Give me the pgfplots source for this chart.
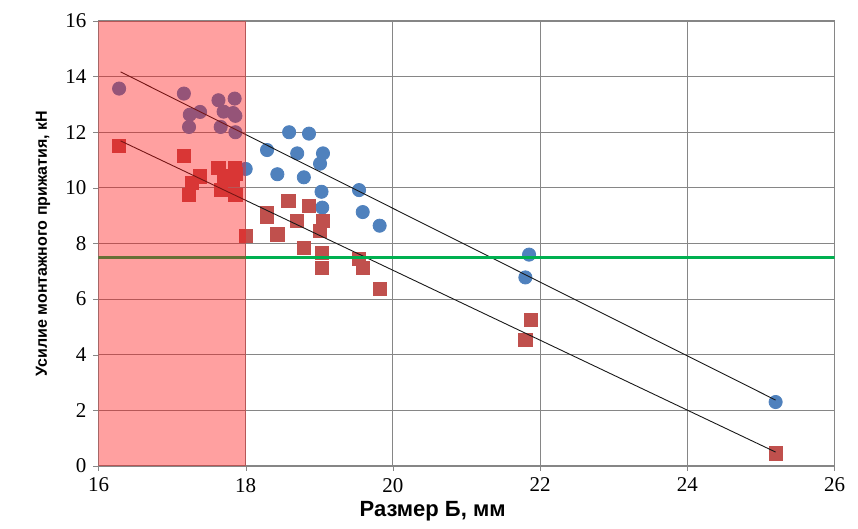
\documentclass[border=0pt]{standalone}
\usepackage{pgfplots}
\pgfplotsset{compat=1.18}
\usepackage{fontspec}
\setmainfont{Liberation Serif}
\newfontfamily\arialfont{Liberation Sans}

\definecolor{ptblue}{RGB}{79,129,189}
\definecolor{ptred}{RGB}{192,80,77}
\definecolor{zone}{RGB}{255,17,17}
\definecolor{limgreen}{RGB}{0,176,80}
\definecolor{gridc}{RGB}{134,134,134}

\begin{document}
\begin{tikzpicture}
\useasboundingbox (0,0) rectangle (429pt,264.5pt);
\begin{axis}[
    at={(49.25pt,31.5pt)}, anchor=south west,
    scale only axis,
    width=368pt, height=222.5pt,
    xmin=16, xmax=26,
    ymin=0, ymax=16,
    xtick={16,18,...,26},
    ytick={0,2,...,16},
    xtick pos=bottom, ytick pos=left,
    grid=major,
    grid style={gridc, line width=0.5pt},
    axis line style={gridc},
    tick align=outside,
    major tick length=2.5pt,
    tick style={gridc},
    ticklabel style={font=\fontsize{10.5}{12}\selectfont},
    /pgf/number format/assume math mode=true,
    xlabel={Размер Б, мм},
    ylabel={Усилие монтажного прижатия, кН},
    xlabel style={font=\arialfont\bfseries\fontsize{11}{13}\selectfont,
        at={(axis description cs:0.454,-0.101)}, anchor=center},
    ylabel style={font=\arialfont\bfseries\fontsize{8}{10}\selectfont,
        at={(axis description cs:-0.0754,0.5)}, anchor=center},
    clip marker paths=true,
]
% blue series
\addplot[only marks, mark=*, mark size=3.3pt, color=ptblue] coordinates {
    (16.28,13.57) (17.16,13.39) (17.23,12.19) (17.24,12.63) (17.38,12.73)
    (17.63,13.15) (17.66,12.19) (17.70,12.74) (17.83,12.69) (17.85,13.21)
    (17.86,12.59) (17.86,12.00)
    (18.00,10.68) (18.29,11.36) (18.43,10.49) (18.59,12.00) (18.70,11.24)
    (18.79,10.38) (18.86,11.95) (19.01,10.87) (19.05,11.24) (19.03,9.86)
    (19.04,9.29) (19.54,9.92) (19.59,9.13) (19.82,8.64)
    (21.85,7.60) (21.80,6.78) (25.20,2.30)
};
% red series
\addplot[only marks, mark=square*, mark size=3.3pt, color=ptred] coordinates {
    (16.28,11.51) (17.16,11.16) (17.23,9.74) (17.27,10.19) (17.38,10.41)
    (17.63,10.71) (17.66,9.93) (17.70,10.41) (17.83,10.29) (17.85,10.71)
    (17.86,10.50) (17.86,9.75)
    (18.00,8.27) (18.29,9.11) (18.29,8.95) (18.43,8.33) (18.58,9.53)
    (18.70,8.80) (18.79,7.85) (18.86,9.36) (19.01,8.46) (19.05,8.82)
    (19.03,7.67) (19.04,7.11) (19.54,7.45) (19.59,7.11) (19.82,6.36)
    (21.87,5.25) (21.80,4.53) (25.20,0.45)
};
% trend lines
\addplot[black!90, line width=0.45pt] coordinates {(16.3,14.17) (25.2,2.37)};
\addplot[black!90, line width=0.45pt] coordinates {(16.3,11.69) (25.2,0.50)};
% limit
\addplot[limgreen, line width=1.5pt] coordinates {(16,7.5) (26,7.5)};
% zone overlay, above the marks
\addplot[draw=none, fill=zone, fill opacity=0.4] coordinates {(16,0) (16,16) (18,16) (18,0)};
\end{axis}
\end{tikzpicture}
\end{document}
